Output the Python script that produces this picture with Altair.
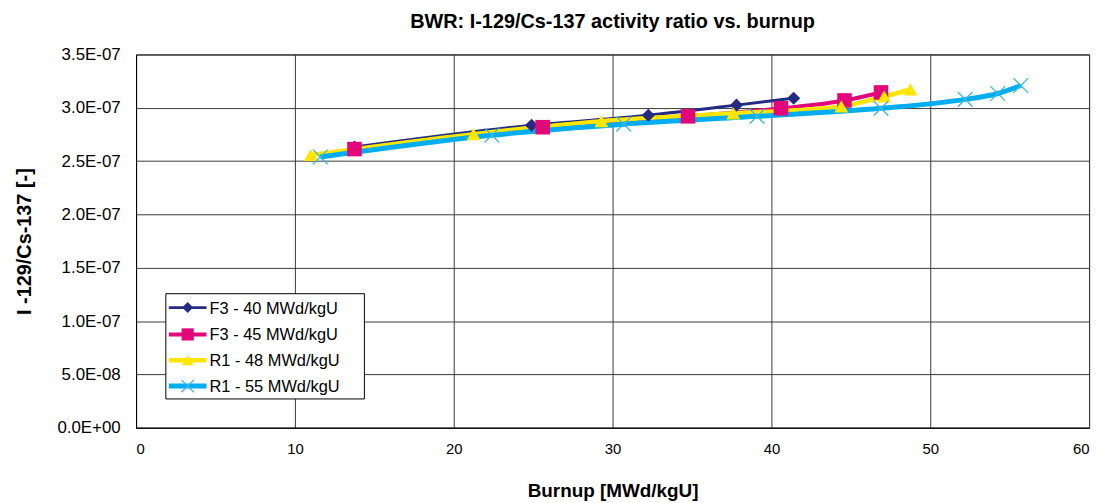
import altair as alt
import pandas as pd

# ---- data ----
SERIES = ["F3 - 40 MWd/kgU", "F3 - 45 MWd/kgU", "R1 - 48 MWd/kgU", "R1 - 55 MWd/kgU"]

F340_X = [13.75, 24.9, 32.25, 37.8, 41.4]
F340_Y = [2.632e-7, 2.836e-7, 2.930e-7, 3.025e-7, 3.090e-7]

F345_X = [13.75, 25.6, 34.75, 40.6, 44.6, 46.9]
F345_Y = [2.613e-7, 2.818e-7, 2.920e-7, 2.995e-7, 3.069e-7, 3.144e-7]

R148_X = [11.0, 21.25, 29.3, 37.6, 44.4, 47.1, 48.75]
R148_Y = [2.557e-7, 2.753e-7, 2.874e-7, 2.948e-7, 3.013e-7, 3.106e-7, 3.172e-7]

R155_X = [11.6, 22.4, 30.7, 39.1, 46.9, 52.2, 54.25, 55.7]
R155_Y = [2.539e-7, 2.743e-7, 2.846e-7, 2.920e-7, 2.995e-7, 3.079e-7, 3.134e-7, 3.209e-7]

X_TICKS = [0, 10, 20, 30, 40, 50, 60]
Y_TICKS = [0, 5e-8, 1e-7, 1.5e-7, 2e-7, 2.5e-7, 3e-7, 3.5e-7]
Y_LABELS = ["0.0E+00", "5.0E-08", "1.0E-07", "1.5E-07", "2.0E-07", "2.5E-07", "3.0E-07", "3.5E-07"]

COLORS = ["#232C82", "#E2077B", "#FFE600", "#00AEEF"]
MARK_COLORS = ["#232C82", "#E2077B", "#FFE600", "#3BB6E8"]
LINE_W = [3, 4, 4.5, 5]
SHAPES = ["diamond", "square", "triangle-up", "M-1,-1L1,1M-1,1L1,-1"]
SIZES = [175, 215, 200, 220]
FILLED = [True, True, True, False]

FONT = "Liberation Sans"
W, H = 960, 376

xs = [F340_X, F345_X, R148_X, R155_X]
ys = [F340_Y, F345_Y, R148_Y, R155_Y]

x_scale = alt.Scale(domain=[0, 60], nice=False)
y_scale = alt.Scale(domain=[0, 3.5e-7], nice=False)

label_expr = "[" + ",".join("'%s'" % s for s in Y_LABELS) + "][round(datum.value / 5e-8)]"

axis_style = dict(
    ticks=False, grid=True, gridColor="#3a3a3a", gridWidth=1, gridOpacity=1,
    domainColor="black", domainWidth=1,
    labelFont=FONT, labelColor="black",
    titleFont=FONT, titleFontWeight="bold", titleColor="black",
)

x_enc = alt.X("x:Q", scale=x_scale,
              axis=alt.Axis(values=X_TICKS, title="Burnup [MWd/kgU]", labelFontSize=15,
                            titleFontSize=19, labelPadding=14, titlePadding=25, **axis_style))
y_enc = alt.Y("y:Q", scale=y_scale,
              axis=alt.Axis(values=Y_TICKS, title="I -129/Cs-137 [-]", labelFontSize=17,
                            titleFontSize=20, labelExpr=label_expr, labelPadding=16,
                            titlePadding=23, **axis_style))

layers = []
for i, name in enumerate(SERIES):
    df = pd.DataFrame({"x": xs[i], "y": ys[i], "series": name})
    base = alt.Chart(df)
    layers.append(base.mark_line(color=COLORS[i], strokeWidth=LINE_W[i],
                                 interpolate="monotone").encode(x=x_enc, y=y_enc))
for i, name in enumerate(SERIES):
    df = pd.DataFrame({"x": xs[i], "y": ys[i], "series": name})
    base = alt.Chart(df)
    if FILLED[i]:
        pt = base.mark_point(shape=SHAPES[i], size=SIZES[i], filled=True,
                             color=MARK_COLORS[i], opacity=1)
    else:
        pt = base.mark_point(shape=SHAPES[i], size=SIZES[i], filled=False,
                             color=MARK_COLORS[i], strokeWidth=1.3, opacity=1)
    layers.append(pt.encode(x=x_enc, y=y_enc))

# ---- legend (drawn in the plot area, lower left) ----
one = pd.DataFrame({"k": [0]})
LEG_L, LEG_T, LEG_R, LEG_B = 30, 241, 230, 347
ROW_Y = [255, 282, 308, 334]
layers.append(alt.Chart(one).mark_rect(fill="white", stroke="black", strokeWidth=1).encode(
    x=alt.value(LEG_L), x2=alt.value(LEG_R), y=alt.value(LEG_T), y2=alt.value(LEG_B)))
for i, name in enumerate(SERIES):
    leg = pd.DataFrame({"label": [name]})
    lb = alt.Chart(leg)
    layers.append(lb.mark_rule(color=COLORS[i], strokeWidth=LINE_W[i]).encode(
        x=alt.value(33), x2=alt.value(71), y=alt.value(ROW_Y[i])))
    if FILLED[i]:
        lp = lb.mark_point(shape=SHAPES[i], size=SIZES[i] * 0.7, filled=True,
                           color=MARK_COLORS[i], opacity=1)
    else:
        lp = lb.mark_point(shape=SHAPES[i], size=SIZES[i] * 0.7, filled=False,
                           color=MARK_COLORS[i], strokeWidth=1.3, opacity=1)
    layers.append(lp.encode(x=alt.value(52), y=alt.value(ROW_Y[i])))
    layers.append(lb.mark_text(align="left", baseline="middle", font=FONT, fontSize=16.5,
                               color="black").encode(
        x=alt.value(74), y=alt.value(ROW_Y[i] + 1), text="label:N"))

chart = alt.layer(*layers).properties(
    width=W, height=H,
    background="white",
    title=alt.TitleParams("BWR: I-129/Cs-137 activity ratio vs. burnup", font=FONT,
                          fontSize=20, fontWeight="bold", color="black", anchor="middle",
                          offset=14),
    autosize=alt.AutoSizeParams(type="none"),
    padding={"left": 129, "top": 45, "right": 11, "bottom": 73},
).configure_view(stroke="black", strokeWidth=1)

chart.save("out.html", embed_options={"renderer": "svg", "actions": False})
